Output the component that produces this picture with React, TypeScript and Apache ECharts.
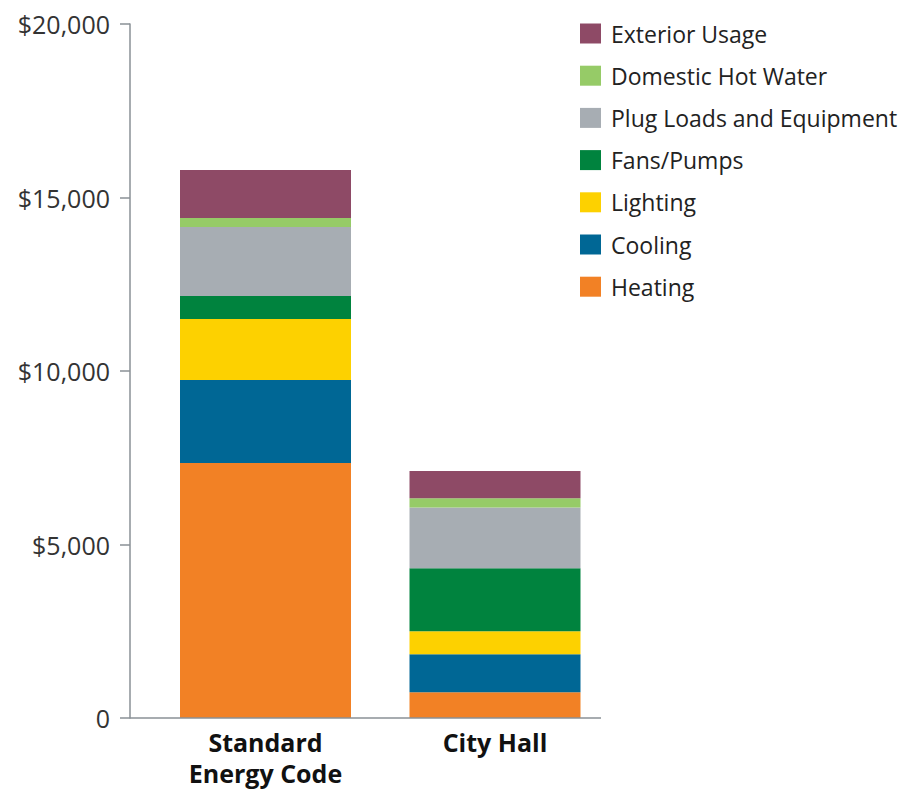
import React, { useEffect, useRef } from "react";
import * as echarts from "echarts";

const categories = ["Standard\nEnergy Code", "City Hall"];
const heating = [7350, 740];
const cooling = [2390, 1095];
const lighting = [1760, 665];
const fans = [660, 1815];
const plug = [1990, 1750];
const dhw = [260, 270];
const exterior = [1385, 780];
const yTicks = [0, 5000, 10000, 15000, 20000];

const seriesDefs = [
  { name: "Heating", data: heating, color: "#f28125" },
  { name: "Cooling", data: cooling, color: "#006795" },
  { name: "Lighting", data: lighting, color: "#fdd100" },
  { name: "Fans/Pumps", data: fans, color: "#00833e" },
  { name: "Plug Loads and Equipment", data: plug, color: "#a7adb3" },
  { name: "Domestic Hot Water", data: dhw, color: "#96cb67" },
  { name: "Exterior Usage", data: exterior, color: "#8e4a66" },
];

const FONT = "'Open Sans', sans-serif";

export default function App() {
  const ref = useRef<HTMLDivElement>(null);
  useEffect(() => {
    if (!ref.current) return;
    const chart = echarts.init(ref.current, undefined, { renderer: "svg" });
    chart.setOption({
      animation: false,
      backgroundColor: "#ffffff",
      grid: { left: 150.75, right: 305.25, top: 24, bottom: 71, containLabel: false },
      legend: {
        orient: "vertical",
        left: 580,
        top: 22,
        padding: 0,
        itemWidth: 21,
        itemHeight: 20,
        itemGap: 19.2,
        icon: "rect",
        data: seriesDefs.map((s) => s.name).reverse(),
        textStyle: {
          fontFamily: FONT,
          fontSize: 23,
          color: "#222222",
          lineHeight: 22,
          padding: [0, 0, 0, 5],
        },
        selectedMode: false,
      },
      xAxis: {
        type: "category",
        data: categories,
        axisLine: { show: false },
        axisTick: { show: false },
        axisLabel: {
          fontFamily: FONT,
          fontWeight: "bold",
          fontSize: 25,
          lineHeight: 31,
          color: "#111111",
          margin: 8,
          align: "center",
        },
      },
      yAxis: {
        type: "value",
        min: yTicks[0],
        max: yTicks[yTicks.length - 1],
        interval: 5000,
        offset: 20.75,
        axisLine: { show: true, lineStyle: { color: "#8a9096", width: 1.5 } },
        axisTick: { show: true, length: 10, lineStyle: { color: "#8a9096", width: 1.5 } },
        splitLine: { show: false },
        axisLabel: {
          fontFamily: FONT,
          fontSize: 25,
          color: "#333333",
          margin: 20,
          formatter: (v: number) => (v === 0 ? "0" : "$" + v.toLocaleString("en-US")),
        },
      },
      graphic: [
        {
          type: "line",
          shape: { x1: 130, y1: 718, x2: 601, y2: 718 },
          style: { stroke: "#8a9096", lineWidth: 1.5 },
          z: 10,
        },
      ],
      series: seriesDefs.map((s) => ({
        name: s.name,
        type: "bar",
        stack: "total",
        barWidth: 171,
        data: s.data,
        itemStyle: { color: s.color },
        emphasis: { disabled: true },
      })),
    });
    return () => chart.dispose();
  }, []);
  return (
    <div
      ref={ref}
      style={{ position: "fixed", left: 0, top: 0, width: 915, height: 789 }}
    />
  );
}
